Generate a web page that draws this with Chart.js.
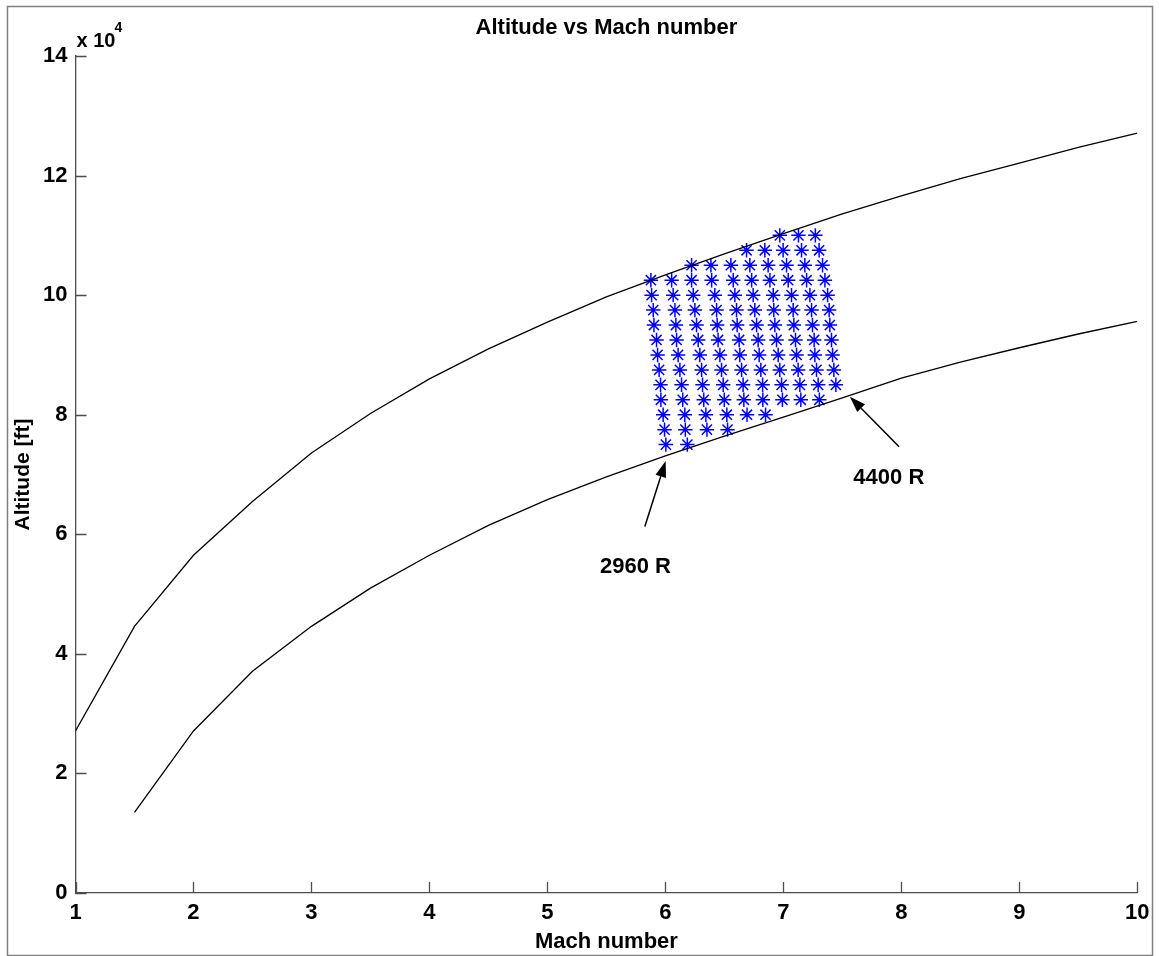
<!DOCTYPE html>
<html>
<head>
<meta charset="utf-8">
<title>Altitude vs Mach number</title>
<script src="https://cdn.jsdelivr.net/npm/chart.js@4.4.1/dist/chart.umd.min.js"></script>
<style>
  html, body { margin: 0; padding: 0; background: #fff; }
</style>
</head>
<body>
<canvas id="altChart" width="1159" height="956"></canvas>
<script>
// boundary curves, altitude in ft
const curveMach = [1, 1.5, 2, 2.5, 3, 3.5, 4, 4.5, 5, 5.5, 6, 6.5, 7, 7.5, 8, 8.5, 9, 9.5, 10];
const upperAlt = [27100, 44600, 56500, 65500, 73600, 80200, 86000, 91000, 95500, 99700,
  103400, 106900, 110300, 113600, 116600, 119500, 122100, 124700, 127100];
const lowerMach = [1.5, 2, 2.5, 3, 3.5, 4, 4.5, 5, 5.5, 6, 6.5, 7, 7.5, 8, 8.5, 9, 9.5, 10];
const lowerAlt = [13500, 27100, 37100, 44600, 51000, 56500, 61500, 65800, 69600, 73100,
  76400, 79600, 82800, 86100, 88800, 91200, 93500, 95600];

// star grid: one row per altitude
const gridAlt = [110000, 107500, 105000, 102500, 100000, 97500, 95000, 92500,
  90000, 87500, 85000, 82500, 80000, 77500, 75000];
const gridMach = [
  [6.970, 7.128, 7.271],
  [6.688, 6.843, 6.998, 7.154, 7.303],
  [6.222, 6.386, 6.555, 6.716, 6.871, 7.027, 7.182, 7.332],
  [5.877, 6.053, 6.222, 6.392, 6.575, 6.731, 6.886, 7.041, 7.197, 7.352],
  [5.883, 6.066, 6.236, 6.419, 6.589, 6.744, 6.914, 7.069, 7.225, 7.375],
  [5.897, 6.081, 6.250, 6.434, 6.603, 6.758, 6.919, 7.083, 7.239, 7.388],
  [5.903, 6.089, 6.264, 6.439, 6.608, 6.773, 6.928, 7.089, 7.247, 7.394],
  [5.925, 6.095, 6.278, 6.447, 6.625, 6.786, 6.942, 7.103, 7.261, 7.408],
  [5.934, 6.108, 6.292, 6.462, 6.631, 6.795, 6.956, 7.112, 7.267, 7.417],
  [5.947, 6.123, 6.307, 6.476, 6.646, 6.809, 6.970, 7.125, 7.281, 7.428],
  [5.959, 6.137, 6.315, 6.490, 6.659, 6.824, 6.985, 7.140, 7.295, 7.445],
  [5.962, 6.147, 6.325, 6.499, 6.665, 6.826, 6.992, 7.148, 7.305],
  [5.981, 6.165, 6.343, 6.521, 6.692, 6.849],
  [5.993, 6.169, 6.352, 6.527],
  [6.004, 6.186]
];

// arrow notes in data units [mach, alt]
const notes = [
  { text: '2960 R', at: [5.746, 54500], from: [5.826, 61300], to: [6.002, 72250] },
  { text: '4400 R', at: [7.894, 69400], from: [7.981, 74650], to: [7.564, 83000] }
];

const chartTitle = 'Altitude vs Mach number';

Chart.defaults.font.family = '"Liberation Sans", Arial, sans-serif';
Chart.defaults.color = '#000';

const starPoints = [];
gridAlt.forEach((alt, i) => gridMach[i].forEach(m => starPoints.push({ x: m, y: alt })));

const axisColor = '#4d4d4d';

const matlabDecor = {
  id: 'matlabDecor',
  afterDraw(chart) {
    const { ctx, chartArea: a, scales: { x, y } } = chart;
    ctx.save();

    // ticks point inward
    ctx.strokeStyle = axisColor;
    ctx.lineWidth = 1.3;
    ctx.beginPath();
    x.ticks.forEach(t => {
      const px = Math.round(x.getPixelForValue(t.value)) + 0.5;
      ctx.moveTo(px, a.bottom);
      ctx.lineTo(px, a.bottom - 11);
    });
    y.ticks.forEach(t => {
      const py = Math.round(y.getPixelForValue(t.value)) + 0.5;
      ctx.moveTo(a.left, py);
      ctx.lineTo(a.left + 11, py);
    });
    ctx.stroke();

    // title centred over the axes
    ctx.fillStyle = '#000';
    ctx.font = 'bold 22px "Liberation Sans", Arial, sans-serif';
    ctx.textAlign = 'center';
    ctx.textBaseline = 'middle';
    ctx.fillText(chartTitle, (a.left + a.right) / 2, a.top - 28);

    // x 10^4 multiplier
    ctx.textAlign = 'left';
    ctx.textBaseline = 'alphabetic';
    ctx.font = 'bold 20px "Liberation Sans", Arial, sans-serif';
    ctx.fillText('x 10', a.left + 1, a.top - 9);
    ctx.font = 'bold 14px "Liberation Sans", Arial, sans-serif';
    ctx.fillText('4', a.left + 39, a.top - 24);

    // arrows with labels
    ctx.strokeStyle = '#000';
    ctx.lineWidth = 1.5;
    notes.forEach(n => {
      const x0 = x.getPixelForValue(n.from[0]), y0 = y.getPixelForValue(n.from[1]);
      const x1 = x.getPixelForValue(n.to[0]), y1 = y.getPixelForValue(n.to[1]);
      const ang = Math.atan2(y1 - y0, x1 - x0);
      const hl = 16, hw = 5.5;
      const bx = x1 - hl * Math.cos(ang), by = y1 - hl * Math.sin(ang);
      ctx.beginPath();
      ctx.moveTo(x0, y0);
      ctx.lineTo(bx, by);
      ctx.stroke();
      ctx.beginPath();
      ctx.moveTo(x1, y1);
      ctx.lineTo(bx + hw * Math.sin(ang), by - hw * Math.cos(ang));
      ctx.lineTo(bx - hw * Math.sin(ang), by + hw * Math.cos(ang));
      ctx.closePath();
      ctx.fill();

      ctx.font = 'bold 22px "Liberation Sans", Arial, sans-serif';
      ctx.textAlign = 'center';
      ctx.textBaseline = 'middle';
      ctx.fillText(n.text, x.getPixelForValue(n.at[0]), y.getPixelForValue(n.at[1]));
    });

    // figure frame
    ctx.strokeStyle = '#808080';
    ctx.lineWidth = 1.5;
    ctx.strokeRect(7.5, 6.5, 1145, 949);
    ctx.restore();
  }
};

new Chart(document.getElementById('altChart'), {
  type: 'scatter',
  data: {
    datasets: [
      {
        label: 'upper',
        data: curveMach.map((m, i) => ({ x: m, y: upperAlt[i] })),
        showLine: true,
        borderColor: '#000',
        borderWidth: 1.3,
        pointRadius: 0,
        tension: 0
      },
      {
        label: 'lower',
        data: lowerMach.map((m, i) => ({ x: m, y: lowerAlt[i] })),
        showLine: true,
        borderColor: '#000',
        borderWidth: 1.3,
        pointRadius: 0,
        tension: 0
      },
      {
        label: 'grid',
        data: starPoints,
        pointStyle: 'star',
        pointRadius: 7.2,
        pointBorderWidth: 1.5,
        borderColor: '#0000ff',
        backgroundColor: '#0000ff'
      }
    ]
  },
  options: {
    responsive: false,
    animation: false,
    devicePixelRatio: 1,
    layout: { padding: { left: 0, right: 21.7, top: 56, bottom: 0 } },
    plugins: {
      legend: { display: false },
      tooltip: { enabled: false },
      title: { display: false }
    },
    scales: {
      x: {
        type: 'linear',
        min: 1,
        max: 10,
        ticks: { stepSize: 1, padding: 7, maxRotation: 0, color: '#000', font: { size: 22, weight: 'bold' } },
        grid: { display: false, drawTicks: false },
        border: { display: true, color: axisColor, width: 1.3 },
        title: {
          display: true,
          text: 'Mach number',
          color: '#000',
          font: { size: 22, weight: 'bold' },
          padding: { top: 0, bottom: 1 }
        },
        afterFit(scale) { scale.height = 63; }
      },
      y: {
        min: 0,
        max: 140000,
        ticks: {
          stepSize: 20000,
          padding: 8,
          color: '#000',
          font: { size: 22, weight: 'bold' },
          callback: v => v / 10000
        },
        grid: { display: false, drawTicks: false },
        border: { display: true, color: axisColor, width: 1.3 },
        title: {
          display: true,
          text: 'Altitude [ft]',
          color: '#000',
          font: { size: 21, weight: 'bold' },
          padding: { top: 11, bottom: 0 }
        },
        afterFit(scale) { scale.width = 75.5; }
      }
    }
  },
  plugins: [matlabDecor]
});
</script>
</body>
</html>
